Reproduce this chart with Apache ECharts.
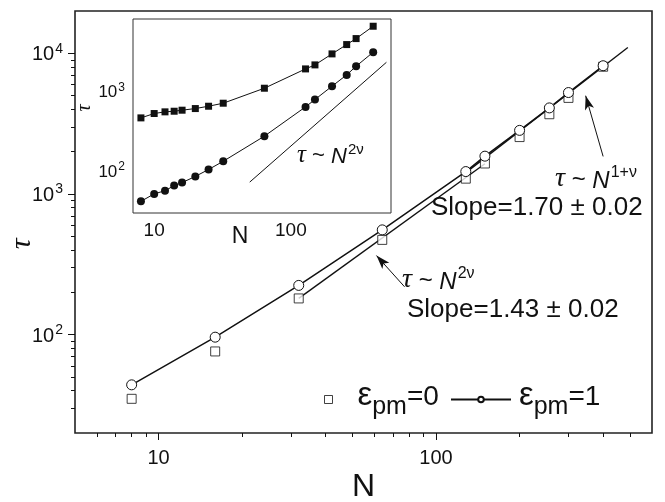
<!DOCTYPE html>
<html>
<head>
<meta charset="utf-8">
<script src="https://cdn.jsdelivr.net/npm/echarts@6/dist/echarts.min.js"></script>
<style>
  html, body { margin: 0; padding: 0; background: #fff; }
  #main { width: 665px; height: 502px; }
</style>
</head>
<body>
<div id="main"></div>
<script>
// main plot data
var mainN = [8, 16, 32, 64, 128, 150, 200, 256, 300, 400];
var tauEps0 = [35, 76, 181, 472, 1286, 1648, 2540, 3690, 4823, 8035];
var tauEps1 = [44, 96, 224, 556, 1444, 1858, 2834, 4094, 5264, 8165];
var fit2nu = [[32, 181], [150, 1640]];
var fit1nu = [[128, 1420], [491, 11000]];
var arrow1 = [[400, 1850], [346, 5000]];
var arrow2 = [[77, 219], [61, 365]];

// inset data
var insetN = [8, 10, 12, 14, 16, 20, 25, 32, 64, 128, 150, 200, 256, 300, 400];
var tauF1 = [464, 526, 552, 562, 579, 607, 649, 708, 1090, 1901, 2134, 2929, 3831, 4552, 6494];
var tauF2 = [42, 52, 57, 66, 72, 86, 105, 133, 274, 637, 787, 1155, 1600, 2053, 3073];
var insetRef = [[50, 73], [500, 2300]];

// tick values
var mainXMajor = [10, 100];
var mainXMinor = [6, 7, 8, 9, 20, 30, 40, 50, 60, 70, 80, 90, 200, 300, 400, 500];
var mainYMajor = [100, 1000, 10000];
var mainYMinor = [30, 40, 50, 60, 70, 80, 90, 200, 300, 400, 500, 600, 700, 800, 900,
                  2000, 3000, 4000, 5000, 6000, 7000, 8000, 9000];
var insetXMajor = [10, 100];
var insetXMinor = [8, 9, 20, 30, 40, 50, 60, 70, 80, 90, 200, 300, 400, 500];
var insetYMajor = [100, 1000];
var insetYMinor = [40, 50, 60, 70, 80, 90, 200, 300, 400, 500, 600, 700, 800, 900,
                   2000, 3000, 4000, 5000, 6000, 7000];

var SANS = 'Liberation Sans, Arial, sans-serif';
var SERIF = 'Liberation Serif, Times New Roman, serif';
var INK = '#111';

function zip(xs, ys) {
  return xs.map(function (x, i) { return [x, ys[i]]; });
}

function powLabel(size) {
  return {
    formatter: function (v) {
      return '{a|10}{b|' + Math.round(Math.log10(v)) + '}';
    },
    rich: {
      a: { fontSize: size, fontFamily: SANS, color: INK, verticalAlign: 'bottom' },
      b: { fontSize: Math.round(size * 0.68), fontFamily: SANS, color: INK, verticalAlign: 'bottom', padding: [0, 0, Math.round(size * 0.45), 1] }
    }
  };
}

function logAxis(opt) {
  var ax = {
    type: 'log', logBase: 10,
    gridIndex: opt.grid, position: opt.pos,
    min: opt.min, max: opt.max,
    axisLine: { show: false },
    splitLine: { show: false },
    axisTick: { show: true, inside: !!opt.inside, length: opt.len, customValues: opt.ticks,
                lineStyle: { color: INK, width: 1 } },
    axisLabel: { show: false }
  };
  if (opt.labels) {
    ax.axisLabel = Object.assign({ show: true, customValues: opt.labels, margin: opt.margin,
                                   color: INK, fontFamily: SANS, fontSize: opt.fs }, opt.labelExtra || {});
  }
  if (opt.name) {
    ax.name = opt.name;
    ax.nameLocation = 'middle';
    ax.nameGap = opt.nameGap;
    ax.nameMoveOverlap = false;
    ax.nameTextStyle = opt.nameStyle;
  }
  return ax;
}

var xAxes = [
  logAxis({ grid: 0, pos: 'bottom', min: 5, max: 600, len: 7, ticks: mainXMajor, labels: mainXMajor, margin: 15, fs: 20,
            name: 'N', nameGap: 38, nameStyle: { fontFamily: SANS, fontSize: 32, color: INK } }),
  logAxis({ grid: 0, pos: 'bottom', min: 5, max: 600, len: 4, ticks: mainXMinor }),
  logAxis({ grid: 1, pos: 'bottom', min: 7, max: 540, len: 5, inside: true, ticks: insetXMajor, labels: insetXMajor, margin: 8, fs: 19,
            name: 'N', nameGap: 12, nameStyle: { fontFamily: SANS, fontSize: 23, color: INK, padding: [0, 44, 0, 0] } }),
  logAxis({ grid: 1, pos: 'bottom', min: 7, max: 540, len: 3, inside: true, ticks: insetXMinor }),
  logAxis({ grid: 1, pos: 'top', min: 7, max: 540, len: 5, inside: true, ticks: insetXMajor }),
  logAxis({ grid: 1, pos: 'top', min: 7, max: 540, len: 3, inside: true, ticks: insetXMinor })
];

var yAxes = [
  logAxis({ grid: 0, pos: 'left', min: 20, max: 20000, len: 7, ticks: mainYMajor, labels: mainYMajor, margin: 12, fs: 20,
            labelExtra: powLabel(20),
            name: 'τ', nameGap: 38, nameStyle: { fontFamily: SERIF, fontStyle: 'italic', fontSize: 30, color: INK, padding: [0, 44, 0, 0] } }),
  logAxis({ grid: 0, pos: 'left', min: 20, max: 20000, len: 4, ticks: mainYMinor }),
  logAxis({ grid: 1, pos: 'left', min: 30, max: 8000, len: 5, inside: true, ticks: insetYMajor, labels: insetYMajor, margin: 8, fs: 17,
            labelExtra: powLabel(17),
            name: 'τ', nameGap: 38, nameStyle: { fontFamily: SERIF, fontStyle: 'italic', fontSize: 20, color: INK, padding: [0, 0, 0, 16] } }),
  logAxis({ grid: 1, pos: 'left', min: 30, max: 8000, len: 3, inside: true, ticks: insetYMinor }),
  logAxis({ grid: 1, pos: 'right', min: 30, max: 8000, len: 5, inside: true, ticks: insetYMajor }),
  logAxis({ grid: 1, pos: 'right', min: 30, max: 8000, len: 3, inside: true, ticks: insetYMinor })
];

// rich styles for the formula annotations
function formulaRich(size) {
  return {
    t: { fontFamily: SERIF, fontStyle: 'italic', fontSize: Math.round(size * 1.15), color: INK, verticalAlign: 'bottom' },
    w: { fontFamily: SANS, fontSize: size, color: INK, verticalAlign: 'bottom', padding: [0, 0, 1, 0] },
    n: { fontFamily: SANS, fontStyle: 'italic', fontSize: size, color: INK, verticalAlign: 'bottom' },
    p: { fontFamily: SANS, fontSize: Math.round(size * 0.66), color: INK, verticalAlign: 'bottom', padding: [0, 0, Math.round(size * 0.5), 1] },
    s: { fontFamily: SANS, fontSize: size, color: INK, verticalAlign: 'bottom' }
  };
}

function textEl(left, top, text, size) {
  return { type: 'text', left: left, top: top, z: 100,
           style: { text: text, rich: formulaRich(size), fill: INK } };
}

var epsRich = {
  e: { fontFamily: SANS, fontSize: 28, color: INK, verticalAlign: 'bottom', padding: [0, 0, 9, 0] },
  m: { fontFamily: SANS, fontSize: 25, color: INK, verticalAlign: 'bottom' },
  g: { fontFamily: SANS, fontSize: 33, color: INK, verticalAlign: 'bottom', padding: [0, 0, 8, 20] }
};

var option = {
  backgroundColor: '#fff',
  animation: false,
  grid: [
    { left: 75, top: 11, right: 13, bottom: 69, show: true, borderColor: '#222', borderWidth: 1.6, z: 0,
      outerBoundsMode: 'none', containLabel: false },
    { left: 133, top: 19, right: 274, bottom: 289, show: true, borderColor: '#333', borderWidth: 1,
      backgroundColor: '#fff', z: 5, outerBoundsMode: 'none', containLabel: false }
  ],
  xAxis: xAxes,
  yAxis: yAxes,
  legend: [
    { data: [{ name: 'eps0', icon: 'rect', itemStyle: { color: '#fff', borderColor: INK, borderWidth: 1 } }],
      left: 324, top: 379, padding: 0, itemWidth: 8, itemHeight: 8, selectedMode: false,
      formatter: function () { return '{g|ε}{m|pm}{e|=0}'; },
      textStyle: { rich: epsRich } },
    { data: ['eps1'], left: 450, top: 379, padding: 0, itemWidth: 60, itemHeight: 7, selectedMode: false,
      formatter: function () { return '{g|ε}{m|pm}{e|=1}'; },
      textStyle: { rich: { e: epsRich.e, m: epsRich.m, g: Object.assign({}, epsRich.g, { padding: [0, 0, 8, 3] }) } } },
    { data: ['F=1.0', 'F=2.0'], orient: 'vertical', left: 139, top: 27, padding: 0, itemGap: 11,
      itemWidth: 49, itemHeight: 10, selectedMode: false,
      textStyle: { fontFamily: SANS, fontSize: 20, color: INK } }
  ],
  graphic: [
    textEl(555, 165, '{t|τ}{w| ~ }{n|N}{p|1+ν}', 24),
    textEl(431, 195, '{s|Slope=1.70 ± 0.02}', 26),
    textEl(402, 266, '{t|τ}{w| ~ }{n|N}{p|2ν}', 24),
    textEl(407, 297, '{s|Slope=1.43 ± 0.02}', 26),
    textEl(297, 142, '{t|τ}{w| ~ }{n|N}{p|2ν}', 22)
  ],
  series: [
    { name: 'eps1', type: 'line', xAxisIndex: 0, yAxisIndex: 0, data: zip(mainN, tauEps1),
      symbol: 'circle', symbolSize: 10, z: 4,
      itemStyle: { color: '#fff', borderColor: INK, borderWidth: 1 },
      lineStyle: { color: INK, width: 1.5 } },
    { name: 'eps0', type: 'scatter', xAxisIndex: 0, yAxisIndex: 0, data: zip(mainN, tauEps0),
      symbol: 'rect', symbolSize: 9, z: 3,
      itemStyle: { color: '#fff', borderColor: INK, borderWidth: 1 } },
    { name: 'fit2nu', type: 'line', xAxisIndex: 0, yAxisIndex: 0, data: fit2nu, symbol: 'none', z: 2,
      lineStyle: { color: INK, width: 1.4 },
      markLine: {
        silent: true, symbol: ['none', 'arrow'], symbolSize: [7, 14],
        label: { show: false },
        lineStyle: { color: INK, width: 1, type: 'solid' },
        data: [
          [{ coord: arrow1[0] }, { coord: arrow1[1] }],
          [{ coord: arrow2[0] }, { coord: arrow2[1] }]
        ]
      } },
    { name: 'fit1nu', type: 'line', xAxisIndex: 0, yAxisIndex: 0, data: fit1nu, symbol: 'none', z: 2,
      lineStyle: { color: INK, width: 1.4 } },

    { name: 'F=1.0', type: 'line', xAxisIndex: 2, yAxisIndex: 2, data: zip(insetN, tauF1),
      symbol: 'rect', symbolSize: 7, z: 6,
      itemStyle: { color: INK }, lineStyle: { color: INK, width: 1 } },
    { name: 'F=2.0', type: 'line', xAxisIndex: 2, yAxisIndex: 2, data: zip(insetN, tauF2),
      symbol: 'circle', symbolSize: 8, z: 6,
      itemStyle: { color: INK }, lineStyle: { color: INK, width: 1 } },
    { name: 'ref', type: 'line', xAxisIndex: 2, yAxisIndex: 2, data: insetRef, symbol: 'none', z: 6,
      lineStyle: { color: INK, width: 1 } }
  ]
};

var chart = echarts.init(document.getElementById('main'), null, { renderer: 'canvas' });
chart.setOption(option);
</script>
</body>
</html>
